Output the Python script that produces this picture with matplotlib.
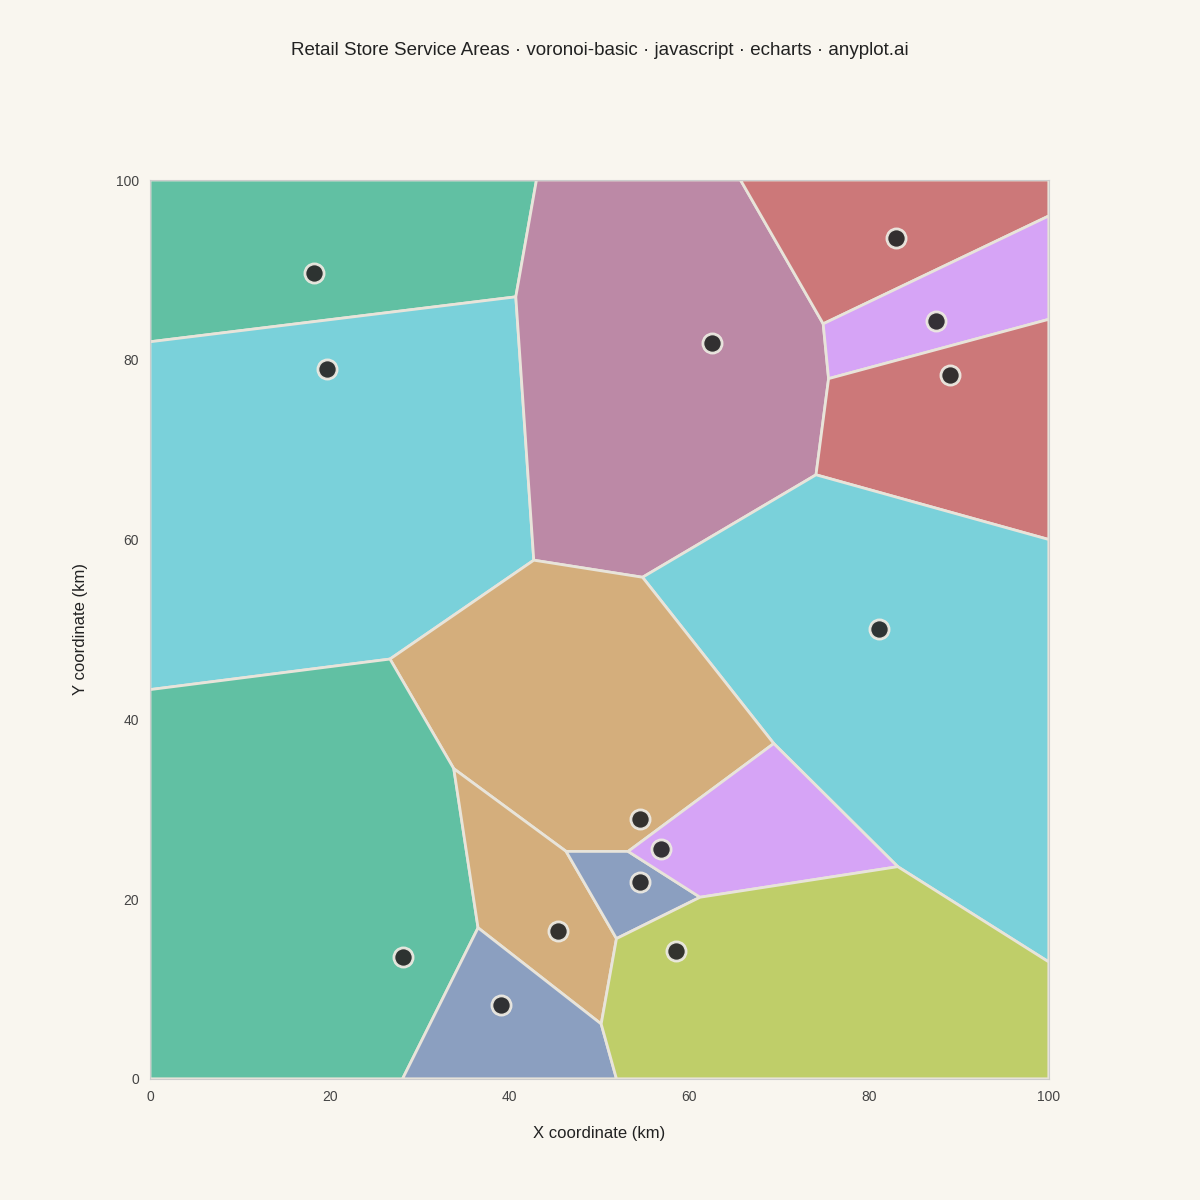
import matplotlib.pyplot as plt
from matplotlib.patches import Polygon

plt.rcParams['font.family'] = ['Liberation Sans', 'DejaVu Sans']

# service-area cells (x km, y km)
cells = [
    [(0, 82), (40.7, 87), (43, 100), (0, 100)],
    [(0, 43.3), (26.7, 46.7), (42.7, 57.7), (40.7, 87), (0, 82)],
    [(43, 100), (40.7, 87), (42.7, 57.7), (54.8, 55.8), (74.1, 67.2), (75.5, 77.9), (74.9, 84.0), (65.7, 100)],
    [(65.7, 100), (74.9, 84), (100, 96), (100, 100)],
    [(74.9, 84), (100, 96), (100, 84.5), (75.5, 77.9)],
    [(75.5, 77.9), (100, 84.5), (100, 60), (74.1, 67.2)],
    [(54.8, 55.8), (74.1, 67.2), (100, 60), (100, 13), (83.2, 23.6), (69.4, 37.3)],
    [(26.7, 46.7), (42.7, 57.7), (54.8, 55.8), (69.4, 37.3), (53.2, 25.3), (46.3, 25.3), (33.8, 34.5)],
    [(0, 43.3), (26.7, 46.7), (33.8, 34.5), (36.5, 16.8), (28.1, 0), (0, 0)],
    [(33.8, 34.5), (46.3, 25.3), (51.9, 15.6), (50.2, 6.1), (36.5, 16.8)],
    [(36.5, 16.8), (50.2, 6.1), (51.9, 0), (28.1, 0)],
    [(46.3, 25.3), (53.2, 25.3), (61.2, 20.2), (51.9, 15.6)],
    [(53.2, 25.3), (69.4, 37.3), (83.2, 23.6), (61.2, 20.2)],
    [(51.9, 15.6), (61.2, 20.2), (83.2, 23.6), (100, 13), (100, 0), (51.9, 0), (50.2, 6.1)],
]
cell_colors = ['#61C0A3', '#7AD1DA', '#BC89A6', '#CC7879', '#D6A4F6', '#CC7879', '#7AD1DA',
               '#D4AE7C', '#61C0A3', '#D4AE7C', '#8B9FC0', '#8B9FC0', '#D6A4F6', '#BFCE69']

store_x = [18.3, 19.7, 62.5, 83.0, 87.4, 89.0, 81.1, 54.5, 56.8, 54.5, 45.4, 58.5, 28.2, 39.1]
store_y = [89.6, 79.0, 81.9, 93.6, 84.3, 78.3, 50.0, 28.9, 25.6, 21.9, 16.4, 14.2, 13.6, 8.2]

bg = '#F9F6EF'
fig = plt.figure(figsize=(12, 12), dpi=100, facecolor=bg)
ax = fig.add_axes([0.125, 0.101, 0.749, 0.749])
ax.set_facecolor(bg)

for pts, c in zip(cells, cell_colors):
    ax.add_patch(Polygon(pts, closed=True, facecolor=c, edgecolor='#E8E4DA', linewidth=2, zorder=1))

ax.scatter(store_x, store_y, s=190, color='#2b2b2b', edgecolors='#EDEAE2', linewidths=2, alpha=0.95, zorder=3)

ax.set_xlim(0, 100)
ax.set_ylim(0, 100)
ax.set_xticks(range(0, 101, 20))
ax.set_yticks(range(0, 101, 20))
ax.tick_params(length=0, labelsize=10, colors='#444444', pad=8)
for s in ax.spines.values():
    s.set_color('#CCCCCC')
ax.set_xlabel('X coordinate (km)', fontsize=12, color='#222222', labelpad=16)
ax.set_ylabel('Y coordinate (km)', fontsize=12, color='#222222', labelpad=20)
fig.text(0.5, 0.958, 'Retail Store Service Areas · voronoi-basic · javascript · echarts · anyplot.ai',
         ha='center', va='center', fontsize=13.5, color='#222222')

fig.savefig('out.png', dpi=100, facecolor=bg)
